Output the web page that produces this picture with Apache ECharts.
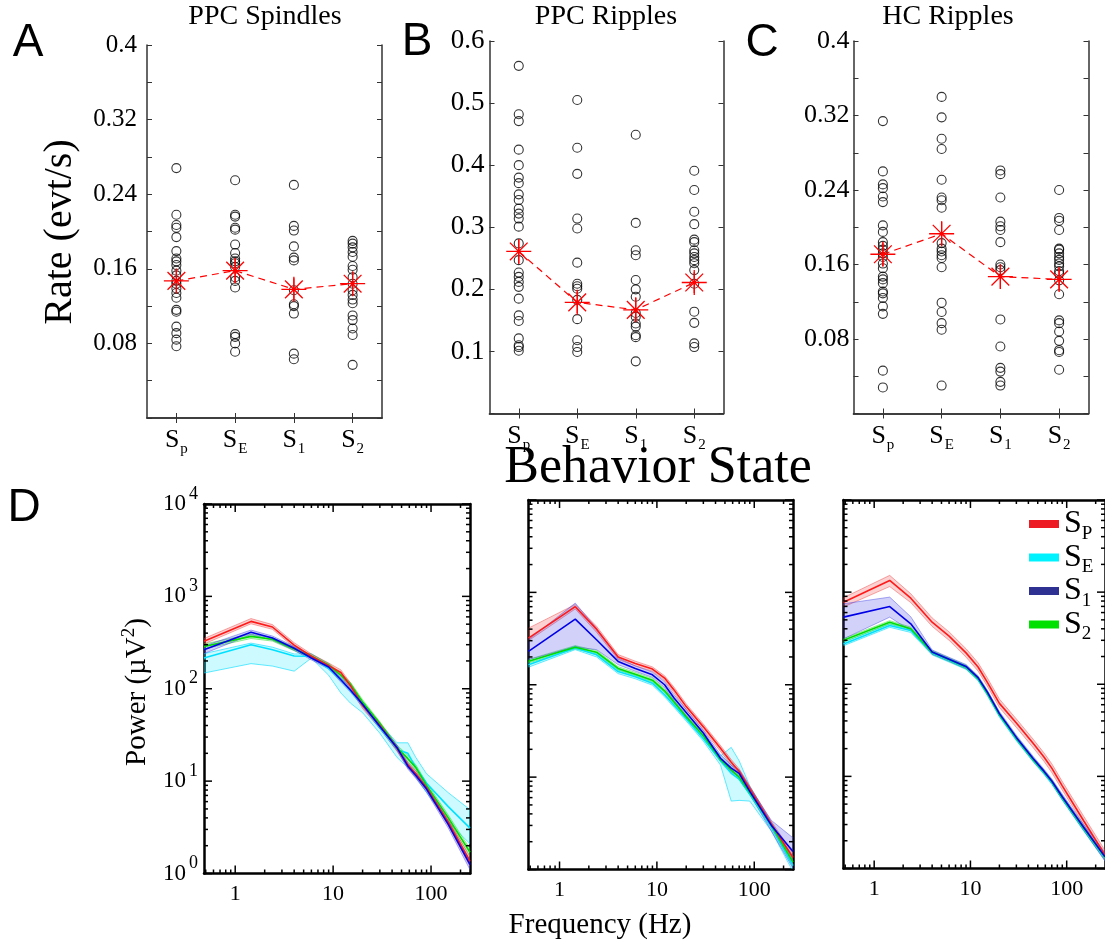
<!DOCTYPE html>
<html><head><meta charset="utf-8">
<script src="https://cdn.jsdelivr.net/npm/echarts@6/dist/echarts.min.js"></script>
<style>html,body{margin:0;padding:0;background:#fff}#c{width:1105px;height:943px}</style>
</head><body><div id="c"></div>
<script>
// ---------- DATA ----------
const states = ['Sp', 'SE', 'S1', 'S2'];
const stateSub = ['p', 'E', '1', '2'];
const legendNames = ['SP', 'SE', 'S1', 'S2'];
const legendSub = ['P', 'E', '1', '2'];

// Panel A: PPC Spindles (evt/s)
const A_Sp = [0.268,0.218,0.207,0.204,0.194,0.179,0.171,0.168,0.164,0.158,0.153,0.147,0.144,0.139,0.134,0.129,0.116,0.114,0.098,0.091,0.084,0.077];
const A_SE = [0.255,0.218,0.216,0.204,0.202,0.186,0.177,0.171,0.168,0.166,0.162,0.151,0.147,0.140,0.090,0.087,0.080,0.071];
const A_S1 = [0.250,0.206,0.201,0.184,0.172,0.169,0.137,0.122,0.120,0.112,0.069,0.063];
const A_S2 = [0.190,0.187,0.183,0.178,0.173,0.163,0.159,0.151,0.144,0.137,0.132,0.127,0.123,0.110,0.105,0.096,0.089,0.057];
const A_mean = [0.147,0.158,0.138,0.144];
const A_err = [0.0125,0.013,0.012,0.012];

// Panel B: PPC Ripples
const B_Sp = [0.560,0.482,0.471,0.425,0.400,0.380,0.371,0.353,0.344,0.330,0.322,0.314,0.301,0.274,0.247,0.227,0.220,0.212,0.204,0.185,0.158,0.149,0.121,0.110,0.107,0.101];
const B_SE = [0.505,0.428,0.386,0.314,0.298,0.243,0.209,0.205,0.201,0.183,0.152,0.118,0.107,0.099];
const B_S1 = [0.449,0.307,0.263,0.255,0.215,0.200,0.188,0.162,0.156,0.145,0.140,0.126,0.123,0.084];
const B_S2 = [0.391,0.360,0.325,0.305,0.280,0.276,0.263,0.258,0.252,0.247,0.242,0.231,0.209,0.164,0.146,0.113,0.107];
const B_mean = [0.261,0.179,0.167,0.211];
const B_err = [0.019,0.017,0.019,0.017];

// Panel C: HC Ripples
const C_Sp = [0.314,0.260,0.246,0.242,0.233,0.227,0.202,0.195,0.184,0.180,0.176,0.172,0.168,0.161,0.156,0.147,0.144,0.140,0.131,0.129,0.124,0.115,0.107,0.046,0.028];
const C_SE = [0.340,0.318,0.295,0.284,0.251,0.232,0.229,0.221,0.183,0.177,0.174,0.170,0.167,0.157,0.119,0.109,0.097,0.090,0.030];
const C_S1 = [0.261,0.257,0.232,0.206,0.201,0.197,0.184,0.160,0.157,0.154,0.101,0.072,0.049,0.045,0.034,0.030];
const C_S2 = [0.240,0.210,0.207,0.197,0.177,0.176,0.172,0.168,0.165,0.161,0.158,0.153,0.150,0.143,0.128,0.100,0.097,0.088,0.078,0.068,0.066,0.047];
const C_mean = [0.171,0.193,0.147,0.144];
const C_err = [0.0125,0.013,0.013,0.012];

// Panel D: power spectra (Hz, uV^2)
const freq = [0.48,1.45,2.4,4,6,9,12,15,20,30,45,58,70,90,150,250];

const D1_SP_m  = [326,536,466,297,225,178,150,108,66,40,22.5,15,12,8.5,3.6,1.35];
const D1_SP_lo = [305,505,440,280,212,168,140,100,61,37,21,14,11,7.9,3.3,1.2];
const D1_SP_hi = [350,575,495,315,238,190,160,116,71,43,24,16,13,9.1,3.9,1.5];
const D1_SE_m  = [215,300,264,226,225,165,125,96,67,38,22,20,14,9.5,5.3,3.1];
const D1_SE_lo = [148,187,176,155,215,140,90,70,55,33,18,14,11,7.5,3.6,2.1];
const D1_SE_hi = [240,312,282,238,240,185,140,108,72,42,26,26,18,12,7.5,4.9];
const D1_S1_m  = [264,408,354,274,215,172,125,97,68,39,23,14.5,11.5,8.2,3.4,1.25];
const D1_S1_lo = [240,385,335,260,205,164,118,92,64,37,21.5,13.5,10.7,7.6,3.1,1.1];
const D1_S1_hi = [290,432,372,288,226,180,132,102,72,41,24.5,15.5,12.3,8.8,3.7,1.4];
const D1_S2_m  = [287,369,343,270,225,180,140,112,72,42,23,17.5,14,9,4.0,1.7];
const D1_S2_lo = [270,350,328,258,215,172,133,106,68,40,21.5,16,13,8.4,3.7,1.55];
const D1_S2_hi = [305,390,358,282,235,188,147,118,76,44,24.5,19,15,9.6,4.3,1.85];

const D2_SP_m  = [320,700,400,200,170,148,118,88,58,35,20.5,14.5,11.5,7.5,3.1,1.35];
const D2_SP_lo = [300,660,370,188,160,140,111,82,54,32.5,19,13.5,10.7,7,2.9,1.2];
const D2_SP_hi = [410,740,430,212,180,156,125,94,62,37.5,22,15.5,12.3,8,3.3,1.5];
const D2_SE_m  = [165,250,211,139,122,104,78,60,43,26,15,11,9.5,6.5,2.9,1.1];
const D2_SE_lo = [155,240,200,132,116,99,74,57,40.5,24.5,13.5,5.5,5.6,5.5,2.6,0.95];
const D2_SE_hi = [177,262,222,146,128,110,83,64,45.5,27.5,17,21,15,8,3.2,1.25];
const D2_S1_m  = [230,514,307,179,150,128,100,72,50,30,16,12.5,11,7,3.0,1.57];
const D2_S1_lo = [187,256,240,165,140,120,93,67,46,28,15,11.5,10,6.5,2.6,1.03];
const D2_S1_hi = [307,766,410,195,160,137,108,78,54,32,17.5,13.5,12,7.8,3.4,2.2];
const D2_S2_m  = [180,255,225,150,130,112,86,65,45,28,15.5,12,10,6.8,3.0,1.2];
const D2_S2_lo = [172,245,215,144,125,107,82,62,43,26.5,14.7,11.3,9.4,6.4,2.8,1.1];
const D2_S2_hi = [188,265,235,157,136,117,90,68,47,29.5,16.3,12.7,10.6,7.2,3.2,1.3];

const D3_SP_m  = [778,1340,860,472,333,219,154,105,62,38,22.7,16.2,12.3,7.9,3.3,1.4];
const D3_SP_lo = [690,1150,770,425,300,197,139,95,56,34,20.4,14.6,11,7.1,3,1.25];
const D3_SP_hi = [870,1520,960,525,370,243,171,117,69,42,25.2,18,13.7,8.8,3.7,1.57];
const D3_SE_m  = [274,435,383,218,182,152,114,79,46,25.5,15,11,8.6,5.8,2.7,1.3];
const D3_SE_lo = [262,415,365,208,174,145,109,75,44,24.3,14.3,10.5,8.2,5.5,2.55,1.22];
const D3_SE_hi = [287,455,400,228,190,159,119,83,48,26.7,15.7,11.5,9,6.1,2.85,1.38];
const D3_S1_m  = [535,698,453,224,187,156,118,82,48,26.5,15.5,11.4,8.9,6,2.8,1.34];
const D3_S1_lo = [311,535,380,212,178,148,112,78,45.5,25,14.6,10.8,8.4,5.6,2.6,1.2];
const D3_S1_hi = [747,883,540,236,196,164,124,86,50.5,28,16.4,12,9.4,6.4,3,1.5];
const D3_S2_m  = [300,470,400,222,185,154,116,80,47,26,15.2,11.2,8.8,5.9,2.75,1.32];
const D3_S2_lo = [287,450,383,212,177,147,111,76,45,24.8,14.5,10.7,8.4,5.6,2.6,1.25];
const D3_S2_hi = [313,490,417,232,193,161,121,84,49,27.2,15.9,11.7,9.2,6.2,2.9,1.4];

// ---------- STYLE ----------
const SERIF = '"Liberation Serif", "Times New Roman", serif';
const SANS = '"Liberation Sans", Arial, sans-serif';
const AX = '#333';
const COL = {
  SP: {line: '#ff1a1a', fill: 'rgba(245,70,70,0.25)', edge: 'rgba(240,60,60,0.55)', legend: '#ed1c24'},
  SE: {line: '#00e1ff', fill: 'rgba(0,228,255,0.20)', edge: 'rgba(0,220,255,0.75)', legend: '#00f2ff'},
  S1: {line: '#0000e6', fill: 'rgba(70,70,230,0.25)', edge: 'rgba(70,70,230,0.55)', legend: '#2e3192'},
  S2: {line: '#00dd00', fill: 'rgba(40,230,40,0.22)', edge: 'rgba(40,220,40,0.6)', legend: '#00e000'}
};
const starPath = 'path://M12,0L12,24M0,12L24,12M3.5,3.5L20.5,20.5M3.5,20.5L20.5,3.5';

const grids = [
  {left: 147, top: 45, width: 235, height: 373},
  {left: 489.5, top: 41, width: 234, height: 372.5},
  {left: 853.5, top: 41, width: 235, height: 372.5},
  {left: 204, top: 504, width: 266, height: 369.5},
  {left: 528.5, top: 500, width: 264.5, height: 369.5},
  {left: 843.5, top: 500, width: 267.6, height: 368.5}
];

const xAxes = [], yAxes = [], series = [];

function fmtRate(v) { return String(parseFloat(v.toFixed(2))); }

function scatterPanel(gi, lists, mean, err, ymax, step, labelEvery, fontSize, labelMargin) {
  const xi = xAxes.length, yi = yAxes.length;
  const catBase = {type: 'category', gridIndex: gi, data: states, boundaryGap: true,
    axisLine: {show: true, lineStyle: {color: AX, width: 1.5}},
    axisTick: {show: true, inside: true, alignWithLabel: true, length: 5, lineStyle: {color: AX, width: 1}},
    splitLine: {show: false}};
  xAxes.push(Object.assign({}, catBase, {position: 'bottom',
    axisLabel: {margin: 6, interval: 0, hideOverlap: false, formatter: (v, i) => '{s|S}{b|' + stateSub[i] + '}',
      rich: {s: {fontSize: 26, fontFamily: SERIF, color: '#000'},
             b: {fontSize: 15, fontFamily: SERIF, color: '#000', padding: [18, 0, 0, 1]}}}}));
  xAxes.push(Object.assign({}, catBase, {position: 'top', axisLabel: {show: false}}));
  const valBase = {type: 'value', gridIndex: gi, min: 0, max: ymax, interval: step,
    axisLine: {show: true, onZero: false, lineStyle: {color: AX, width: 1.5}},
    axisTick: {show: true, inside: true, length: 5, lineStyle: {color: AX, width: 1}},
    splitLine: {show: false}};
  yAxes.push(Object.assign({}, valBase, {position: 'left',
    axisLabel: {margin: labelMargin, fontSize: fontSize, fontFamily: SERIF, color: '#000',
      formatter: v => (v > 1e-9 && Math.round(v / step) % labelEvery === 0) ? fmtRate(v) : ''}}));
  yAxes.push(Object.assign({}, valBase, {position: 'right', axisLabel: {show: false}}));
  lists.forEach((arr, ci) => {
    series.push({type: 'scatter', xAxisIndex: xi, yAxisIndex: yi, symbol: 'circle', symbolSize: 9,
      itemStyle: {color: 'rgba(0,0,0,0)', borderColor: '#000', borderWidth: 1.1},
      data: arr.map(v => [ci, v]), z: 2, silent: true});
  });
  series.push({type: 'custom', xAxisIndex: xi, yAxisIndex: yi, z: 3, silent: true,
    data: mean.map((m, i) => [i, m - err[i], m + err[i]]),
    renderItem: (params, api) => {
      const p1 = api.coord([api.value(0), api.value(1)]);
      const p2 = api.coord([api.value(0), api.value(2)]);
      return {type: 'line', shape: {x1: p1[0], y1: p1[1], x2: p2[0], y2: p2[1]},
        style: {stroke: '#ff0000', lineWidth: 1.2}};
    }});
  series.push({type: 'line', xAxisIndex: xi, yAxisIndex: yi, z: 4, silent: true,
    data: mean.map((m, i) => [i, m]),
    lineStyle: {color: '#ff0000', width: 1.2, type: [7, 5]},
    symbol: starPath, symbolSize: 25, showSymbol: true,
    itemStyle: {color: 'rgba(0,0,0,0)', borderColor: '#ff0000', borderWidth: 1.3}});
}

scatterPanel(0, [A_Sp, A_SE, A_S1, A_S2], A_mean, A_err, 0.4, 0.04, 2, 25, 10);
scatterPanel(1, [B_Sp, B_SE, B_S1, B_S2], B_mean, B_err, 0.6, 0.1, 1, 27, 5);
scatterPanel(2, [C_Sp, C_SE, C_S1, C_S2], C_mean, C_err, 0.4, 0.04, 2, 26, 4);

function isPow10(v) { const l = Math.log10(v); return Math.abs(l - Math.round(l)) < 1e-6; }

function spectrumPanel(gi, sets, showY, named) {
  const xi = xAxes.length, yi = yAxes.length;
  const xBase = {type: 'log', logBase: 10, gridIndex: gi, min: 0.48, max: 250, splitNumber: 3,
    axisLine: {show: true, onZero: false, lineStyle: {color: '#000', width: 2.5}},
    axisTick: {show: false}, splitLine: {show: false}, minorTick: {show: false}};
  xAxes.push(Object.assign({}, xBase, {position: 'bottom',
    axisLabel: {margin: 10, fontSize: 22, fontFamily: SERIF, color: '#000',
      showMinLabel: false, showMaxLabel: false,
      formatter: v => isPow10(v) ? String(Math.round(v)) : ''}}));
  xAxes.push(Object.assign({}, xBase, {position: 'top', axisLabel: {show: false}}));
  const yBase = {type: 'log', logBase: 10, gridIndex: gi, min: 1, max: 10000,
    axisLine: {show: true, onZero: false, lineStyle: {color: '#000', width: 2.5}},
    axisTick: {show: false}, splitLine: {show: false}, minorTick: {show: false}};
  yAxes.push(Object.assign({}, yBase, {position: 'left',
    axisLabel: showY ? {margin: 6,
      formatter: v => isPow10(v) ? '{b|10}{e|' + Math.round(Math.log10(v)) + '}' : '',
      rich: {b: {fontSize: 23, fontFamily: SERIF, color: '#000'},
             e: {fontSize: 18, fontFamily: SERIF, color: '#000', padding: [0, 0, 20, 3]}}} : {show: false}}));
  yAxes.push(Object.assign({}, yBase, {position: 'right', axisLabel: {show: false}}));

  // bands
  sets.forEach(s => {
    const c = COL[s.key];
    series.push({type: 'custom', xAxisIndex: xi, yAxisIndex: yi, z: 2, silent: true,
      data: freq.map((f, i) => [f, s.lo[i], s.hi[i]]),
      renderItem: (params, api) => {
        if (params.dataIndex !== 0) return;
        const pts = [];
        for (let i = 0; i < freq.length; i++) pts.push(api.coord([freq[i], s.hi[i]]));
        for (let i = freq.length - 1; i >= 0; i--) pts.push(api.coord([freq[i], s.lo[i]]));
        const cs = params.coordSys;
        return {type: 'group', clipPath: {type: 'rect', shape: {x: cs.x, y: cs.y, width: cs.width, height: cs.height}},
          children: [{type: 'polygon', shape: {points: pts}, style: {fill: c.fill, stroke: c.edge, lineWidth: 0.8}}]};
      }});
  });
  // mean lines
  sets.forEach(s => {
    const c = COL[s.key];
    series.push({type: 'line', name: named ? s.key : ('p' + gi + s.key), xAxisIndex: xi, yAxisIndex: yi, z: 3, silent: true,
      clip: true, showSymbol: false, symbol: 'none', color: c.line,
      lineStyle: {color: c.line, width: 1.6},
      data: freq.map((f, i) => [f, s.m[i]])});
  });
  // box ticks (major + minor, log spaced) drawn through the axes
  const tickData = [];
  for (let d = -1; d <= 2; d++) for (let k = 1; k <= 9; k++) {
    const f = k * Math.pow(10, d);
    if (f < 0.48 || f > 250) continue;
    const L = k === 1 ? 8 : 4;
    tickData.push([f, 1, 0, L]); tickData.push([f, 10000, 1, L]);
  }
  for (let d = 0; d <= 3; d++) for (let k = 1; k <= 9; k++) {
    const p = k * Math.pow(10, d);
    const L = k === 1 ? 8 : 4;
    tickData.push([0.48, p, 2, L]); tickData.push([250, p, 3, L]);
  }
  tickData.push([0.48, 10000, 2, 8]); tickData.push([250, 10000, 3, 8]);
  series.push({type: 'custom', xAxisIndex: xi, yAxisIndex: yi, z: 5, silent: true, data: tickData,
    renderItem: (params, api) => {
      const p = api.coord([api.value(0), api.value(1)]);
      const side = api.value(2), L = api.value(3);
      let x2 = p[0], y2 = p[1];
      if (side === 0) y2 -= L; else if (side === 1) y2 += L; else if (side === 2) x2 += L; else x2 -= L;
      return {type: 'line', shape: {x1: p[0], y1: p[1], x2: x2, y2: y2}, style: {stroke: '#000', lineWidth: 1.5}};
    }});
}

spectrumPanel(3, [
  {key: 'SE', m: D1_SE_m, lo: D1_SE_lo, hi: D1_SE_hi},
  {key: 'S2', m: D1_S2_m, lo: D1_S2_lo, hi: D1_S2_hi},
  {key: 'SP', m: D1_SP_m, lo: D1_SP_lo, hi: D1_SP_hi},
  {key: 'S1', m: D1_S1_m, lo: D1_S1_lo, hi: D1_S1_hi}], true, false);
spectrumPanel(4, [
  {key: 'SE', m: D2_SE_m, lo: D2_SE_lo, hi: D2_SE_hi},
  {key: 'S2', m: D2_S2_m, lo: D2_S2_lo, hi: D2_S2_hi},
  {key: 'SP', m: D2_SP_m, lo: D2_SP_lo, hi: D2_SP_hi},
  {key: 'S1', m: D2_S1_m, lo: D2_S1_lo, hi: D2_S1_hi}], false, false);
spectrumPanel(5, [
  {key: 'SE', m: D3_SE_m, lo: D3_SE_lo, hi: D3_SE_hi},
  {key: 'S2', m: D3_S2_m, lo: D3_S2_lo, hi: D3_S2_hi},
  {key: 'SP', m: D3_SP_m, lo: D3_SP_lo, hi: D3_SP_hi},
  {key: 'S1', m: D3_S1_m, lo: D3_S1_lo, hi: D3_S1_hi}], false, true);

function txt(x, y, text, size, family, extra) {
  return Object.assign({type: 'text', x: x, y: y, silent: true,
    style: {text: text, fontSize: size, fontFamily: family, fill: '#000', align: 'center', verticalAlign: 'middle'}}, extra || {});
}

const graphic = [
  txt(28, 43, 'A', 46, SANS), txt(417, 42, 'B', 46, SANS), txt(762, 43, 'C', 46, SANS), txt(24, 508, 'D', 46, SANS),
  txt(265, 17, 'PPC Spindles', 28, SERIF), txt(606, 17, 'PPC Ripples', 28, SERIF), txt(948, 17, 'HC Ripples', 28, SERIF),
  txt(60, 232, 'Rate (evt/s)', 40, SERIF, {rotation: Math.PI / 2}),
  txt(658, 468, 'Behavior State', 52, SERIF),
  txt(600, 925, 'Frequency (Hz)', 29, SERIF),
  {type: 'text', x: 137, y: 692, rotation: Math.PI / 2, silent: true,
    style: {text: '{n|Power (µV}{e|2}{n|)}', align: 'center', verticalAlign: 'middle',
      rich: {n: {fontSize: 29, fontFamily: SERIF, fill: '#000', color: '#000'},
             e: {fontSize: 19, fontFamily: SERIF, fill: '#000', color: '#000', padding: [0, 0, 16, 0]}}}}
];

const chart = echarts.init(document.getElementById('c'), null, {renderer: 'canvas'});
chart.setOption({
  backgroundColor: '#fff',
  animation: false,
  grid: grids.map(g => Object.assign({containLabel: false, show: false}, g)),
  xAxis: xAxes,
  yAxis: yAxes,
  series: series,
  graphic: graphic,
  legend: {
    orient: 'vertical', left: 1024, top: 503, icon: 'rect', itemWidth: 30, itemHeight: 8, itemGap: -2,
    selectedMode: false,
    data: legendNames.map(n => ({name: n, itemStyle: {color: COL[n].legend}})),
    formatter: n => '{s|S}{b|' + legendSub[legendNames.indexOf(n)] + '}',
    textStyle: {rich: {s: {fontSize: 32, fontFamily: SERIF, color: '#000'},
                       b: {fontSize: 19, fontFamily: SERIF, color: '#000', padding: [20, 0, 0, 0]}}}
  }
});
</script></body></html>
